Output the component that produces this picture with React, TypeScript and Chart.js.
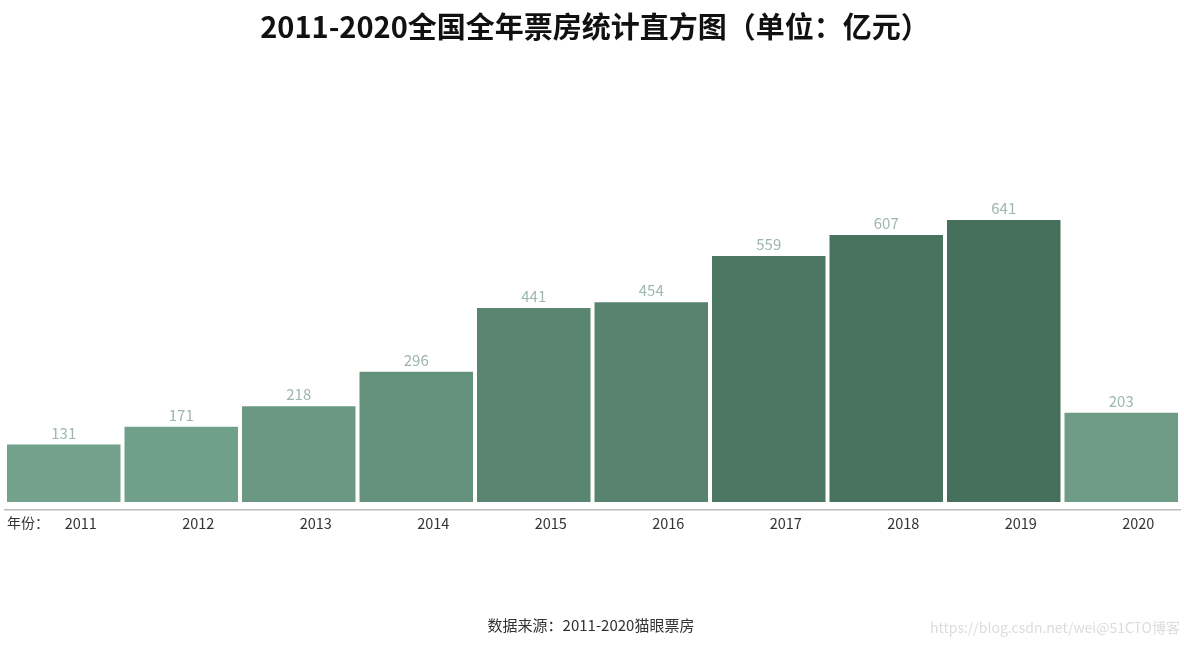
import React, { useEffect, useRef } from "react";
import { Chart, registerables } from "chart.js";

Chart.register(...registerables);

const years = ["2011", "2012", "2013", "2014", "2015", "2016", "2017", "2018", "2019", "2020"];
const boxOffice = [131, 171, 218, 296, 441, 454, 559, 607, 641, 203];
const barColors = [
  "#74a18b", "#71a08a", "#6b9882", "#64917b", "#5a8570",
  "#58836f", "#4c7763", "#48735f", "#46705c", "#6f9c86",
];
const titleText = "2011-2020全国全年票房统计直方图（单位：亿元）";
const footerText = "数据来源：2011-2020猫眼票房";
const axisPrefix = "年份：";
const watermarkText = "https://blog.csdn.net/wei@51CTO博客";

const FONT = "'Noto Sans CJK SC', 'Noto Sans', sans-serif";

const decorPlugin = {
  id: "decor",
  afterDatasetsDraw(chart: any) {
    const ctx = chart.ctx;
    const meta = chart.getDatasetMeta(0);
    ctx.save();
    ctx.font = `15px ${FONT}`;
    ctx.fillStyle = "#9db7ab";
    ctx.textAlign = "center";
    ctx.textBaseline = "bottom";
    meta.data.forEach((bar: any, i: number) => {
      ctx.fillText(String(boxOffice[i]), bar.x, bar.y - 4);
    });
    ctx.restore();
  },
  afterDraw(chart: any) {
    const ctx = chart.ctx;
    ctx.save();
    ctx.fillStyle = "#111";
    ctx.font = `bold 29px ${FONT}`;
    ctx.textAlign = "center";
    ctx.textBaseline = "middle";
    ctx.fillText(titleText, 595, 27);

    ctx.font = `14px ${FONT}`;
    ctx.fillStyle = "#333";
    ctx.textAlign = "left";
    ctx.fillText(axisPrefix, 7, 523);

    ctx.font = `15px ${FONT}`;
    ctx.textAlign = "center";
    ctx.fillText(footerText, 591, 625);

    ctx.font = `14px ${FONT}`;
    ctx.fillStyle = "#dcdcdc";
    ctx.textAlign = "right";
    ctx.fillText(watermarkText, 1180, 628);
    ctx.restore();
  },
};

export default function App() {
  const canvasRef = useRef<HTMLCanvasElement | null>(null);

  useEffect(() => {
    document.body.style.margin = "0";
    const canvas = canvasRef.current;
    if (!canvas) return;
    const chart = new Chart(canvas, {
      type: "bar",
      data: {
        labels: years,
        datasets: [
          {
            data: boxOffice,
            backgroundColor: barColors,
            borderWidth: 0,
            categoryPercentage: 1,
            barPercentage: 0.966,
          },
        ],
      },
      options: {
        animation: false,
        responsive: false,
        maintainAspectRatio: false,
        layout: { padding: { left: 5, right: 4, top: 62, bottom: 0 } },
        plugins: {
          legend: { display: false },
          tooltip: { enabled: false },
          title: { display: false },
        },
        scales: {
          x: {
            grid: { display: false, drawTicks: false },
            border: { display: true, color: "#bdbdbd", width: 1.5 },
            ticks: {
              color: "#333",
              font: { size: 14.5, family: FONT },
              padding: 5,
              labelOffset: 17,
              maxRotation: 0,
              autoSkip: false,
            },
            afterFit(scale: any) {
              scale.height = 137;
            },
          },
          y: {
            display: false,
            min: -18,
            max: 1000,
          },
        },
      },
      plugins: [decorPlugin],
    } as any);
    return () => chart.destroy();
  }, []);

  return (
    <div style={{ position: "relative", width: 1184, height: 647, background: "#fff" }}>
      <canvas ref={canvasRef} width={1184} height={647} style={{ display: "block" }} />
    </div>
  );
}
